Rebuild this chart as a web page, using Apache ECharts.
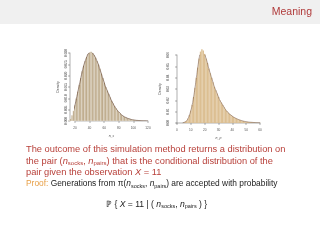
<!DOCTYPE html>
<html>
<head>
    <meta charset='utf-8'>
    <script src="https://cdn.jsdelivr.net/npm/echarts@6/dist/echarts.min.js"></script>
</head>
<body>
<style>
    html, body, #main {
        width: 320px;
        height: 240px;
        margin: 0;
        padding: 0;
        background: #fff;
    }
</style>
<div id="main"></div>
<script>
    // n_socks histogram (bin width 2), density values
    var socksBins = [12, 14, 16, 18, 20, 22, 24, 26, 28, 30, 32, 34, 36, 38, 40, 42, 44, 46, 48, 50,
        52, 54, 56, 58, 60, 62, 64, 66, 68, 70, 72, 74, 76, 78, 80, 82, 84, 86, 88, 90,
        92, 94, 96, 98, 100, 102, 104, 106, 108, 110, 112, 114, 116, 118, 120];
    var socksDensity = [0.0002, 0.0010, 0.0025, 0.0045, 0.0070, 0.0100, 0.0130, 0.0160, 0.0190, 0.0220,
        0.0245, 0.0265, 0.0282, 0.0296, 0.0302, 0.0306, 0.0300, 0.0291, 0.0280, 0.0265,
        0.0250, 0.0230, 0.0210, 0.0190, 0.0170, 0.0150, 0.0135, 0.0120, 0.0105, 0.0090,
        0.0078, 0.0066, 0.0056, 0.0047, 0.0040, 0.0033, 0.0027, 0.0022, 0.0018, 0.0015,
        0.0012, 0.0010, 0.0008, 0.0006, 0.0005, 0.0004, 0.0003, 0.00025, 0.0002, 0.00015,
        0.0001, 0.00008, 0.00006, 0.00004, 0.00003];
    // n_pairs histogram (bin width 1)
    var pairsBins = [4, 5, 6, 7, 8, 9, 10, 11, 12, 13, 14, 15, 16, 17, 18, 19, 20, 21, 22, 23,
        24, 25, 26, 27, 28, 29, 30, 31, 32, 33, 34, 35, 36, 37, 38, 39, 40, 41, 42, 43,
        44, 45, 46, 47, 48, 49, 50, 51, 52, 53, 54, 55, 56, 57, 58, 59, 60];
    var pairsDensity = [0, 0.0005, 0.001, 0.002, 0.004, 0.007, 0.011, 0.016, 0.023, 0.031,
        0.040, 0.049, 0.057, 0.063, 0.065, 0.064, 0.061, 0.057, 0.053, 0.048,
        0.044, 0.040, 0.036, 0.032, 0.029, 0.026, 0.023, 0.020, 0.018, 0.016,
        0.014, 0.012, 0.0105, 0.009, 0.008, 0.007, 0.006, 0.0052, 0.0045, 0.0039,
        0.0033, 0.0028, 0.0024, 0.002, 0.0017, 0.0014, 0.0012, 0.001, 0.0008, 0.0007,
        0.0006, 0.0005, 0.0004, 0.0003, 0.00025, 0.0002, 0.00015];

    var red = '#b8403a';
    var chart = echarts.init(document.getElementById('main'));

    function pairs(xs, ys) {
        return xs.map(function (x, i) { return [x, ys[i]]; });
    }

    function histItem(fill, stroke, half) {
        return function (params, api) {
            var x = api.value(0), y = api.value(1);
            var p0 = api.coord([x - half, 0]);
            var p1 = api.coord([x + half, y]);
            return {
                type: 'rect',
                shape: {x: p0[0], y: p1[1], width: p1[0] - p0[0], height: p0[1] - p1[1]},
                style: {fill: fill, stroke: stroke, lineWidth: stroke ? 0.4 : 0}
            };
        };
    }

    var axisFont = {fontSize: 3.2, color: '#555', fontFamily: 'Liberation Sans'};
    var lineStyle = {color: '#333', width: 0.4};

    function xAx(idx, min, max, interval, name) {
        return {
            type: 'value', gridIndex: idx, min: min, max: max, interval: interval,
            offset: 4, name: name, nameLocation: 'middle', nameGap: 9,
            nameTextStyle: {fontSize: 3.5, color: '#444', fontStyle: 'italic'},
            axisLine: {lineStyle: lineStyle}, axisTick: {length: 2, lineStyle: lineStyle},
            axisLabel: Object.assign({margin: 2}, axisFont), splitLine: {show: false}
        };
    }

    function yAx(idx, max, interval, digits) {
        return {
            type: 'value', gridIndex: idx, min: 0, max: max, interval: interval,
            offset: 5, name: 'Density', nameLocation: 'middle', nameGap: 10, nameRotate: 90,
            nameTextStyle: {fontSize: 3.5, color: '#444'},
            axisLine: {show: true, lineStyle: lineStyle}, axisTick: {show: true, length: 2, lineStyle: lineStyle},
            axisLabel: Object.assign({margin: 2, rotate: 90, formatter: function (v) { return v.toFixed(digits); }}, axisFont),
            splitLine: {show: false}
        };
    }

    chart.setOption({
        animation: false,
        grid: [
            {left: 75, top: 53, width: 73, height: 68},
            {left: 177, top: 55, width: 83, height: 68}
        ],
        xAxis: [xAx(0, 20, 120, 20, 'n_s'), xAx(1, 0, 60, 10, 'n_p')],
        yAxis: [yAx(0, 0.03, 0.005, 3), yAx(1, 0.06, 0.01, 2)],
        series: [
            {
                type: 'custom', xAxisIndex: 0, yAxisIndex: 0, clip: false,
                renderItem: histItem('#b29c76', 'rgba(255,255,255,0.8)', 1),
                data: pairs(socksBins, socksDensity)
            },
            {
                type: 'line', xAxisIndex: 0, yAxisIndex: 0, smooth: true, showSymbol: false,
                lineStyle: {color: '#5a3a2a', width: 0.6}, data: pairs(socksBins, socksDensity)
            },
            {
                type: 'custom', xAxisIndex: 1, yAxisIndex: 1, clip: false,
                renderItem: histItem('#dcbf92', null, 0.5),
                data: pairs(pairsBins, pairsDensity)
            },
            {
                type: 'line', xAxisIndex: 1, yAxisIndex: 1, smooth: true, showSymbol: false,
                lineStyle: {color: '#6a4a3a', width: 0.5}, data: pairs(pairsBins, pairsDensity)
            }
        ],
        graphic: [
            {type: 'rect', left: 0, top: 0, shape: {width: 320, height: 24}, style: {fill: '#f0f0f0'}, z: -1},
            {type: 'text', right: 8, top: 7, style: {text: 'Meaning', fill: '#b03a3a', font: '10.5px "Liberation Sans"'}},
            {
                type: 'text', left: 26, top: 145,
                style: {
                    text: 'The outcome of this simulation method returns a distribution on',
                    fill: red, font: '9.3px "Liberation Sans"'
                }
            },
            {
                type: 'text', left: 26, top: 157,
                style: {
                    text: 'the pair ({i|n}{s|socks}, {i|n}{s|pairs}) that is the conditional distribution of the',
                    fill: red, font: '9.3px "Liberation Sans"',
                    rich: {
                        i: {fontStyle: 'italic', fontSize: 9.3, fill: red},
                        s: {fontSize: 6, padding: [4, 0, 0, 0], fill: red}
                    }
                }
            },
            {
                type: 'text', left: 26, top: 168,
                style: {
                    text: 'pair given the observation {i|X} = 11',
                    fill: red, font: '9.3px "Liberation Sans"',
                    rich: {i: {fontStyle: 'italic', fontSize: 9.3, fill: red}}
                }
            },
            {
                type: 'text', left: 26, top: 180,
                style: {
                    text: '{o|Proof:} Generations from \u03c0({i|n}{s|socks}, {i|n}{s|pairs}) are accepted with probability',
                    fill: '#222', font: '8.4px "Liberation Sans"',
                    rich: {
                        o: {fill: '#e8a048', fontSize: 8.4},
                        i: {fontStyle: 'italic', fontSize: 8.4, fill: '#222'},
                        s: {fontSize: 5.5, padding: [4, 0, 0, 0], fill: '#222'}
                    }
                }
            },
            {
                type: 'text', left: 106, top: 200,
                style: {
                    text: '\u2119 { {i|X} = 11 | ( {i|n}{s|socks}, {i|n}{s|pairs} ) }',
                    fill: '#222', font: '8.6px "Liberation Sans"',
                    rich: {
                        i: {fontStyle: 'italic', fontSize: 8.6, fill: '#222'},
                        s: {fontSize: 5.5, padding: [4, 0, 0, 0], fill: '#222'}
                    }
                }
            }
        ]
    });
</script>
</body>
</html>
